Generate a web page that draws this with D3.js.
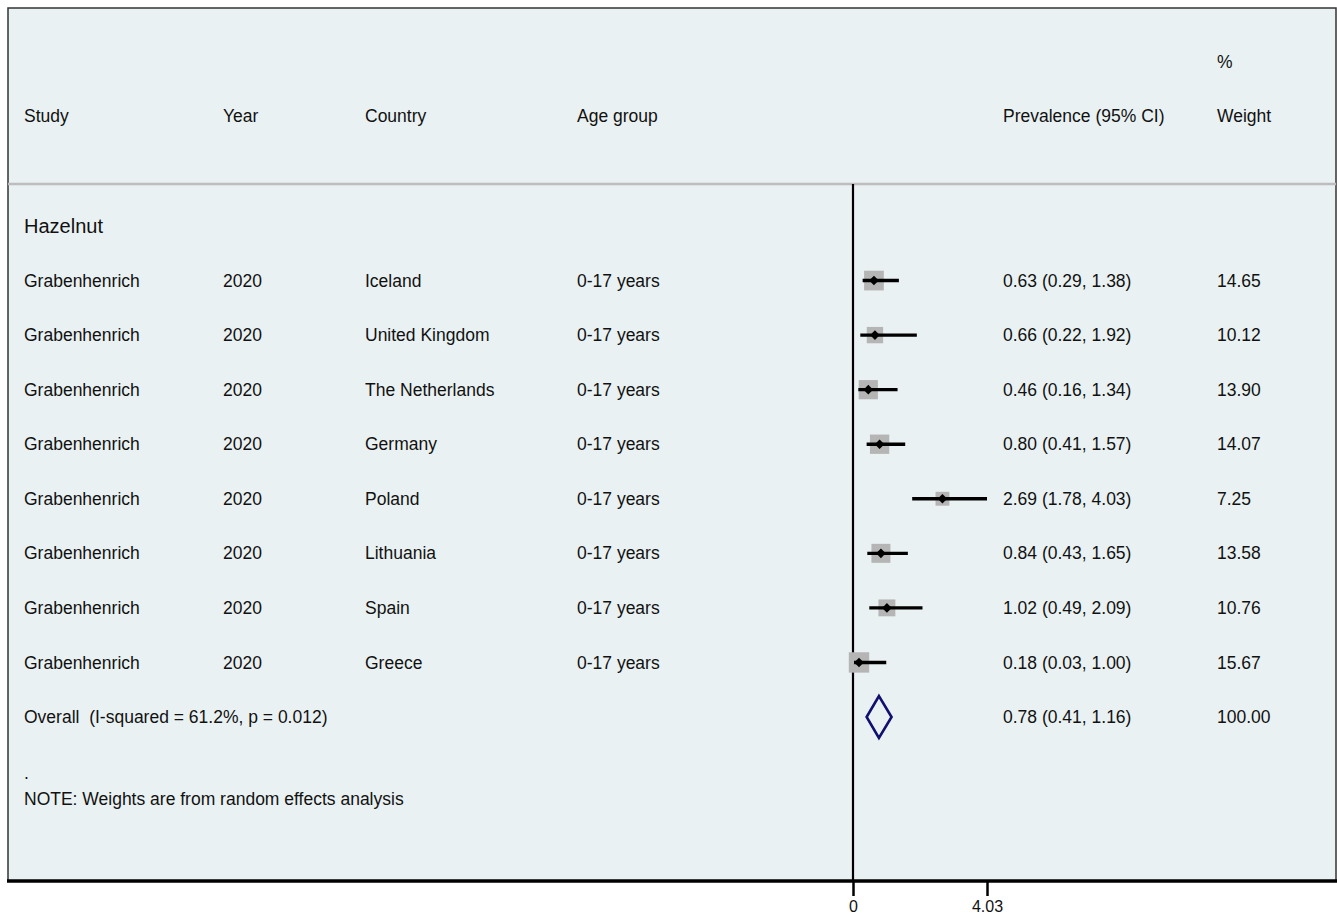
<!DOCTYPE html>
<html>
<head>
<meta charset="utf-8">
<script src="https://cdn.jsdelivr.net/npm/d3@7"></script>
<style>
  body { margin: 0; background: #fff; }
  text { font-family: "Liberation Sans", Arial, sans-serif; fill: #111; white-space: pre; }
</style>
</head>
<body>
<div id="chart"></div>
<script>
// data
const studies = ["Grabenhenrich", "Grabenhenrich", "Grabenhenrich", "Grabenhenrich",
                 "Grabenhenrich", "Grabenhenrich", "Grabenhenrich", "Grabenhenrich"]
const years = ["2020", "2020", "2020", "2020", "2020", "2020", "2020", "2020"]
const countries = ["Iceland", "United Kingdom", "The Netherlands", "Germany",
                   "Poland", "Lithuania", "Spain", "Greece"]
const ageGroups = ["0-17 years", "0-17 years", "0-17 years", "0-17 years",
                   "0-17 years", "0-17 years", "0-17 years", "0-17 years"]
const estimates = [0.63, 0.66, 0.46, 0.80, 2.69, 0.84, 1.02, 0.18]
const lowers = [0.29, 0.22, 0.16, 0.41, 1.78, 0.43, 0.49, 0.03]
const uppers = [1.38, 1.92, 1.34, 1.57, 4.03, 1.65, 2.09, 1.00]
const weights = [14.65, 10.12, 13.90, 14.07, 7.25, 13.58, 10.76, 15.67]
const overall = { est: 0.78, lo: 0.41, hi: 1.16, weight: 100.00 }
const overallLabel = "Overall  (I-squared = 61.2%, p = 0.012)"
const groupLabel = "Hazelnut"
const headers = ["Study", "Year", "Country", "Age group", "Prevalence (95% CI)", "Weight"]
const tickValues = [0, 4.03]

const width = 1337, height = 917
const padL = 8, padR = 1336, padT = 8, padB = 881
const sepY = 184
const colX = [24, 223, 365, 577, 1003, 1217]
const fs = "17.5px"

const svg = d3.select("#chart").append("svg")
  .attr("width", width)
  .attr("height", height)

// panel
svg.append("rect")
  .attr("x", padL).attr("y", padT)
  .attr("width", padR - padL).attr("height", padB - padT)
  .attr("fill", "#eaf1f3")
  .attr("stroke", "#333")
  .attr("stroke-width", 1.5)

svg.append("line")
  .attr("x1", padL).attr("x2", padR)
  .attr("y1", sepY).attr("y2", sepY)
  .attr("stroke", "#bdbdbd")
  .attr("stroke-width", 2.5)

const xScale = d3.scaleLinear()
  .domain([0, 4.03])
  .range([853, 987])

const rowIdx = d3.range(studies.length + 2) // group, studies..., overall
const yScale = d3.scalePoint()
  .domain(rowIdx)
  .range([226, 717])

const boxSize = d3.scaleSqrt()
  .domain([0, 16])
  .range([0, 20.6])

const fmt = d3.format(".2f")

// header
const hdr = svg.append("g").attr("font-size", fs)
headers.forEach((h, i) => {
  hdr.append("text").attr("x", colX[i]).attr("y", 116).attr("dy", "0.35em").text(h)
})
hdr.append("text").attr("x", colX[5]).attr("y", 62).attr("dy", "0.35em").text("%")

// null line
svg.append("line")
  .attr("x1", xScale(0)).attr("x2", xScale(0))
  .attr("y1", sepY).attr("y2", padB)
  .attr("stroke", "#000")
  .attr("stroke-width", 2.2)

// group label
svg.append("text")
  .attr("x", colX[0]).attr("y", yScale(0)).attr("dy", "0.35em")
  .attr("font-size", "20px")
  .text(groupLabel)

const rows = svg.append("g").selectAll("g")
  .data(studies.map((s, i) => i))
  .join("g")
  .attr("font-size", fs)

rows.each(function(i) {
  const g = d3.select(this)
  const y = yScale(i + 1)
  const cells = [studies[i], years[i], countries[i], ageGroups[i],
    `${fmt(estimates[i])} (${fmt(lowers[i])}, ${fmt(uppers[i])})`, fmt(weights[i])]
  cells.forEach((c, j) => {
    g.append("text").attr("x", colX[j]).attr("y", y).attr("dy", "0.35em").text(c)
  })
  const s = boxSize(weights[i])
  g.append("rect")
    .attr("x", xScale(estimates[i]) - s / 2)
    .attr("y", y - s / 2)
    .attr("width", s).attr("height", s)
    .attr("fill", "#b5b5b5")
  g.append("line")
    .attr("x1", xScale(lowers[i])).attr("x2", xScale(uppers[i]))
    .attr("y1", y).attr("y2", y)
    .attr("stroke", "#000")
    .attr("stroke-width", 3.4)
  g.append("path")
    .attr("d", d3.symbol(d3.symbolSquare, 46)())
    .attr("transform", `translate(${xScale(estimates[i])},${y}) rotate(45)`)
    .attr("fill", "#000")
})

// overall row
const oy = yScale(studies.length + 1)
const og = svg.append("g").attr("font-size", fs)
og.append("text").attr("x", colX[0]).attr("y", oy).attr("dy", "0.35em").text(overallLabel)
og.append("text").attr("x", colX[4]).attr("y", oy).attr("dy", "0.35em")
  .text(`${fmt(overall.est)} (${fmt(overall.lo)}, ${fmt(overall.hi)})`)
og.append("text").attr("x", colX[5]).attr("y", oy).attr("dy", "0.35em").text(fmt(overall.weight))
og.append("path")
  .attr("d", d3.line()([
    [xScale(overall.lo), oy], [xScale(overall.est), oy - 21],
    [xScale(overall.hi), oy], [xScale(overall.est), oy + 21]
  ]) + "Z")
  .attr("fill", "none")
  .attr("stroke", "#101070")
  .attr("stroke-width", 2.6)

// footnote
svg.append("text").attr("x", colX[0]).attr("y", 773).attr("dy", "0.35em")
  .attr("font-size", fs).text(".")
svg.append("text").attr("x", colX[0]).attr("y", 799).attr("dy", "0.35em")
  .attr("font-size", fs).text("NOTE: Weights are from random effects analysis")

// x axis
const xAxis = d3.axisBottom(xScale)
  .tickValues(tickValues)
  .tickFormat(d => d === 0 ? "0" : d3.format(".2f")(d))
  .tickSize(15)
  .tickPadding(5)

const axisG = svg.append("g")
  .attr("transform", `translate(0,${padB})`)
  .call(xAxis)
axisG.select(".domain").remove()
axisG.selectAll(".tick line").attr("stroke", "#000").attr("stroke-width", 2.5)
axisG.selectAll(".tick text")
  .attr("font-size", "16px")
  .attr("font-family", "Liberation Sans, Arial, sans-serif")
  .attr("fill", "#111")

svg.append("line")
  .attr("x1", padL - 1).attr("x2", padR + 1)
  .attr("y1", padB).attr("y2", padB)
  .attr("stroke", "#000")
  .attr("stroke-width", 3.5)
</script>
</body>
</html>
